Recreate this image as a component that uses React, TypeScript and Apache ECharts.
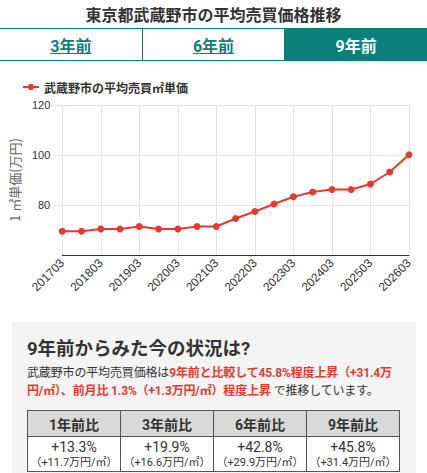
import React, { useEffect, useRef } from 'react';
import * as echarts from 'echarts';

const pageTitle = '東京都武蔵野市の平均売買価格推移';
const tabs = ['3年前', '6年前', '9年前'];
const activeTab = 2;
const seriesName = '武蔵野市の平均売買㎡単価';
const yAxisName = '1 ㎡単価(万円)';
const categories = [
  '201703', '201709', '201803', '201809', '201903', '201909', '202003', '202009', '202103', '202109',
  '202203', '202209', '202303', '202309', '202403', '202409', '202503', '202509', '202603',
];
const prices = [
  69.5, 69.5, 70.4, 70.4, 71.4, 70.4, 70.4, 71.4, 71.4, 74.6,
  77.4, 80.4, 83.3, 85.2, 86.2, 86.2, 88.4, 93.2, 100.1,
];
const yMin = 60;
const yMax = 120;
const yStep = 20;

const boxTitle = '9年前からみた今の状況は?';
const tableHeaders = ['1年前比', '3年前比', '6年前比', '9年前比'];
const tablePct = ['+13.3%', '+19.9%', '+42.8%', '+45.8%'];
const tableDiff = ['+11.7', '+16.6', '+29.9', '+31.4'];

const TEAL = '#0b7f7b';
const RED = '#e53a2f';
const CJK = '"Noto Sans CJK JP", sans-serif';
const MIX = 'Roboto, "Noto Sans CJK JP", sans-serif';

function Chart() {
  const ref = useRef<HTMLDivElement>(null);
  useEffect(() => {
    if (!ref.current) return;
    const chart = echarts.init(ref.current, undefined, { renderer: 'svg' });
    chart.setOption({
      animation: false,
      textStyle: { fontFamily: '"Liberation Sans", Arial, "Noto Sans CJK JP", sans-serif' },
      legend: {
        left: 17,
        top: 14,
        itemWidth: 16,
        itemHeight: 8,
        data: [seriesName],
        textStyle: { fontSize: 12, color: '#333', fontWeight: 'bold', fontFamily: CJK },
      },
      grid: { left: 58, right: 18, top: 43, height: 150 },
      xAxis: {
        type: 'category',
        data: categories,
        boundaryGap: false,
        axisLine: { lineStyle: { color: '#333', width: 1 } },
        axisTick: { show: false },
        axisLabel: { interval: 1, rotate: 45, fontSize: 12, color: '#333', margin: 6 },
        splitLine: { show: true, interval: 1, lineStyle: { color: '#e3e3e3' } },
      },
      yAxis: {
        type: 'value',
        min: yMin,
        max: yMax,
        interval: yStep,
        name: yAxisName,
        nameLocation: 'middle',
        nameGap: 36,
        nameTextStyle: { color: '#666', fontSize: 13, fontFamily: CJK },
        axisLine: { show: false },
        axisTick: { show: true, length: 9, lineStyle: { color: '#e3e3e3' } },
        axisLabel: { showMinLabel: false, fontSize: 11, color: '#333', margin: 12 },
        splitLine: { show: true, lineStyle: { color: '#e3e3e3' } },
      },
      series: [
        {
          name: seriesName,
          type: 'line',
          data: prices,
          symbol: 'circle',
          symbolSize: 7,
          itemStyle: { color: RED },
          lineStyle: { color: RED, width: 2 },
        },
      ],
    });
    return () => chart.dispose();
  }, []);
  return <div ref={ref} style={{ position: 'absolute', left: 0, top: 62, width: 427, height: 248 }} />;
}

export default function App() {
  return (
    <div
      style={{
        position: 'absolute',
        left: 0,
        top: 0,
        width: 427,
        height: 473,
        overflow: 'hidden',
        background: '#fff',
        fontFamily: MIX,
        color: '#333',
      }}
    >
      <div
        style={{
          position: 'absolute',
          left: 0,
          top: 2,
          width: 427,
          height: 24,
          lineHeight: '24px',
          textAlign: 'center',
          fontSize: 16,
          fontWeight: 'bold',
          fontFamily: CJK,
          color: '#333',
        }}
      >
        {pageTitle}
      </div>
      <div
        style={{
          position: 'absolute',
          left: 0,
          top: 28,
          width: 427,
          height: 33,
          boxSizing: 'border-box',
          borderTop: `1.5px solid ${TEAL}`,
          borderBottom: `1.5px solid ${TEAL}`,
          display: 'flex',
        }}
      >
        {tabs.map((t, i) => (
          <div
            key={t}
            style={{
              flex: 1,
              boxSizing: 'border-box',
              borderLeft: i > 0 ? `1.5px solid ${TEAL}` : 'none',
              background: i === activeTab ? TEAL : '#fff',
              color: i === activeTab ? '#fff' : TEAL,
              textDecoration: i === activeTab ? 'none' : 'underline',
              fontWeight: 'bold',
              fontSize: 16,
              fontFamily: MIX,
              display: 'flex',
              alignItems: 'center',
              justifyContent: 'center',
            }}
          >
            {t}
          </div>
        ))}
      </div>
      <Chart />
      <div
        style={{
          position: 'absolute',
          left: 12,
          top: 322,
          width: 404,
          height: 160,
          background: '#f4f4f4',
        }}
      >
        <div
          style={{
            position: 'absolute',
            left: 15,
            top: 14,
            fontSize: 18.5,
            fontWeight: 'bold',
            fontFamily: MIX,
            whiteSpace: 'nowrap',
            lineHeight: '26px',
          }}
        >
          {boxTitle}
        </div>
        <div
          style={{
            position: 'absolute',
            left: 15,
            top: 42,
            fontSize: 12,
            lineHeight: '18px',
            fontFamily: MIX,
            whiteSpace: 'nowrap',
            letterSpacing: -0.15,
            color: '#333',
          }}
        >
          <div>
            武蔵野市の平均売買価格は
            <span style={{ color: RED, fontWeight: 'bold' }}>9年前と比較して45.8%程度上昇（+31.4万</span>
          </div>
          <div>
            <span style={{ color: RED, fontWeight: 'bold' }}>円/㎡）、前月比 1.3%（+1.3万円/㎡）程度上昇</span> で推移しています。
          </div>
        </div>
        <table
          style={{
            position: 'absolute',
            left: 15,
            top: 88,
            width: 373,
            borderCollapse: 'collapse',
            tableLayout: 'fixed',
            fontFamily: MIX,
            color: '#333',
          }}
        >
          <tbody>
            <tr>
              {tableHeaders.map((h) => (
                <td
                  key={h}
                  style={{
                    border: '1px solid #555',
                    background: '#d9d9d9',
                    height: 25,
                    padding: 0,
                    textAlign: 'center',
                    fontWeight: 'bold',
                    fontSize: 14,
                  }}
                >
                  {h}
                </td>
              ))}
            </tr>
            <tr>
              {tablePct.map((p, i) => (
                <td
                  key={p}
                  style={{
                    border: '1px solid #555',
                    background: '#fff',
                    height: 34,
                    padding: 0,
                    textAlign: 'center',
                  }}
                >
                  <div style={{ fontSize: 14, lineHeight: '16px' }}>{p}</div>
                  <div style={{ fontSize: 11, lineHeight: '15px' }}>（{tableDiff[i]}万円/㎡）</div>
                </td>
              ))}
            </tr>
          </tbody>
        </table>
      </div>
    </div>
  );
}
